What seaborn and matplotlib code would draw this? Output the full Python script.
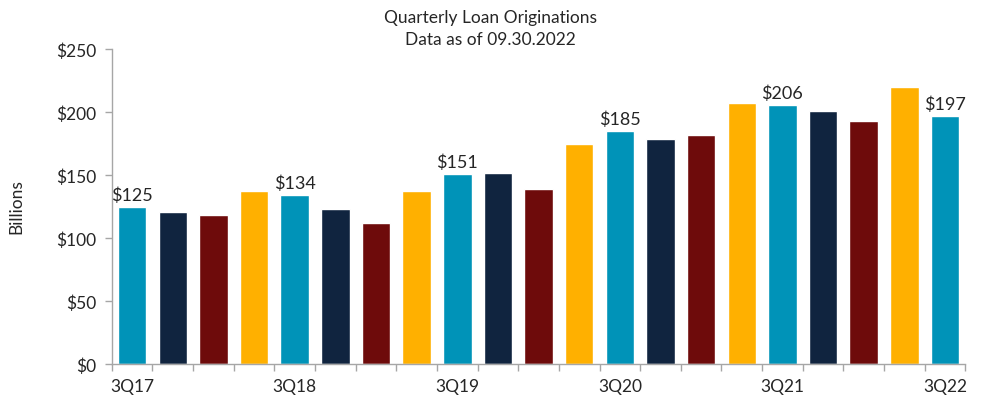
import numpy as np
import pandas as pd
import seaborn as sns
import matplotlib.pyplot as plt

quarters = ['3Q17', '4Q17', '1Q18', '2Q18', '3Q18', '4Q18', '1Q19', '2Q19',
            '3Q19', '4Q19', '1Q20', '2Q20', '3Q20', '4Q20', '1Q21', '2Q21',
            '3Q21', '4Q21', '1Q22', '2Q22', '3Q22']
values = [125, 121, 118, 137, 134, 123, 112, 137, 151, 152, 139, 175,
          185, 179, 182, 207, 206, 201, 193, 220, 197]
# colour by quarter of the year
qcolors = {'3Q': '#0093B8', '4Q': '#10243F', '1Q': '#6E0B0B', '2Q': '#FFB000'}

df = pd.DataFrame({'quarter': quarters, 'value': values})
palette = [qcolors[q[:2]] for q in quarters]

sns.set_style('white', {'xtick.bottom': True, 'ytick.left': True})
plt.rcParams['font.family'] = ['Lato', 'DejaVu Sans']
plt.rcParams['xtick.minor.size'] = 5
plt.rcParams['ytick.major.size'] = 5

fig = plt.figure(figsize=(9.81, 4.14), dpi=100)
ax = fig.add_axes([0.114, 0.118, 0.87, 0.761])

sns.barplot(data=df, x='quarter', y='value', hue='quarter', palette=palette,
            legend=False, width=0.7, saturation=1, ax=ax)

txt = '#262626'
grey = '#A6A6A6'
ax.set_xlim(-0.5, len(quarters) - 0.5)
ax.set_ylim(0, 250)
ax.set_yticks(np.arange(0, 251, 50))
ax.set_yticklabels(['$%d' % v for v in range(0, 251, 50)], fontsize=12.5, color=txt)

# labels only every fourth quarter, ticks on category boundaries
ax.set_xticks(range(0, len(quarters), 4))
ax.set_xticklabels(quarters[::4], fontsize=12.5, color=txt)
ax.set_xticks(np.arange(-0.5, len(quarters), 1), minor=True)
ax.tick_params(axis='x', which='major', length=0, pad=10)
ax.tick_params(axis='x', which='minor', bottom=True, length=5, width=1,
               color=grey, direction='out')
ax.tick_params(axis='y', which='major', left=True, length=5, width=1,
               color=grey, direction='out', pad=6)

for i in range(0, len(quarters), 4):
    ax.text(i, values[i] + 3, '$%d' % values[i], ha='center', va='bottom',
            fontsize=13, color=txt)

for s in ['top', 'right']:
    ax.spines[s].set_visible(False)
for s in ['left', 'bottom']:
    ax.spines[s].set_color(grey)
    ax.spines[s].set_linewidth(1)

ax.set_xlabel('')
ax.set_ylabel('')
fig.text(0.017, 0.5, 'Billions', rotation=90, ha='center', va='center',
         fontsize=12.5, color=txt)
fig.text(0.5, 0.93, 'Quarterly Loan Originations\nData as of 09.30.2022',
         ha='center', va='center', fontsize=12.5, color=txt, linespacing=1.4)

fig.savefig('out.png', dpi=100)
